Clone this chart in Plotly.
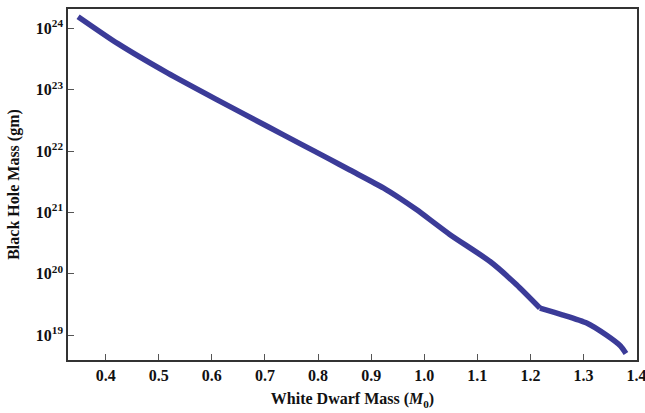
import plotly.graph_objects as go

wd_mass = [0.348, 0.423, 0.517, 0.611, 0.705, 0.766, 0.819, 0.860, 0.923, 0.954,
           0.986, 1.048, 1.124, 1.174, 1.218, 1.26, 1.306, 1.343, 1.37, 1.38]
bh_mass = [1.55e24, 5.62e23, 1.86e23, 6.76e22, 2.51e22, 1.32e22, 7.59e21, 4.90e21, 2.51e21, 1.70e21,
           1.10e21, 4.37e20, 1.58e20, 6.61e19, 2.75e19, 2.14e19, 1.57e19, 1.0e19, 6.6e18, 5.0e18]
kink_index = 14  # sharp corner of the curve at 1.218

x_ticks = [0.4, 0.5, 0.6, 0.7, 0.8, 0.9, 1.0, 1.1, 1.2, 1.3, 1.4]
x_ticktext = ["0.4", "0.5", "0.6", "0.7", "0.8", "0.9", "1.0", "1.1", "1.2", "1.3", "1.4"]
y_exps = [19, 20, 21, 22, 23, 24]

font = dict(family="Liberation Serif", size=16, color="#111")
line_style = dict(color="#3b3b98", width=5.5, shape="spline", smoothing=0.6)

fig = go.Figure()
fig.add_trace(go.Scatter(x=wd_mass[:kink_index + 1], y=bh_mass[:kink_index + 1], mode="lines",
                         line=line_style, showlegend=False))
fig.add_trace(go.Scatter(x=wd_mass[kink_index:], y=bh_mass[kink_index:], mode="lines",
                         line=line_style, showlegend=False))

fig.update_layout(
    width=645, height=413,
    margin=dict(l=68, r=8, t=9, b=53),
    plot_bgcolor="white", paper_bgcolor="white",
    font=font,
)
fig.update_xaxes(
    range=[0.329, 1.4008], tickvals=x_ticks, ticktext=["<b>%s</b>" % t for t in x_ticktext],
    ticks="inside", ticklen=6, tickcolor="#555", showgrid=False, zeroline=False,
    showline=True, linecolor="#333", linewidth=1.5, mirror=True, automargin=False,
    ticklabeloverflow="allow",
    title=dict(text="<b>White Dwarf Mass (<i>M</i><sub>0</sub>)</b>", standoff=10,
               font=dict(family="Liberation Serif", size=16)),
    tickfont=dict(family="Liberation Serif", size=16),
)
fig.update_yaxes(
    type="log", range=[18.594, 24.315],
    tickvals=[10.0 ** e for e in y_exps],
    ticktext=["<b>10<sup>%d</sup></b>" % e for e in y_exps],
    ticks="inside", ticklen=6, tickcolor="#555", showgrid=False, zeroline=False,
    showline=True, linecolor="#333", linewidth=1.5, mirror=True, automargin=False,
    title=dict(text="<b>Black Hole Mass (gm)</b>", standoff=12,
               font=dict(family="Liberation Serif", size=16)),
    tickfont=dict(family="Liberation Serif", size=16),
)

# remove the browser's default 8px page margin so the figure fills the window
fig.write_html("out.html", config={"displayModeBar": False},
               post_script="document.body.style.margin='0';")
